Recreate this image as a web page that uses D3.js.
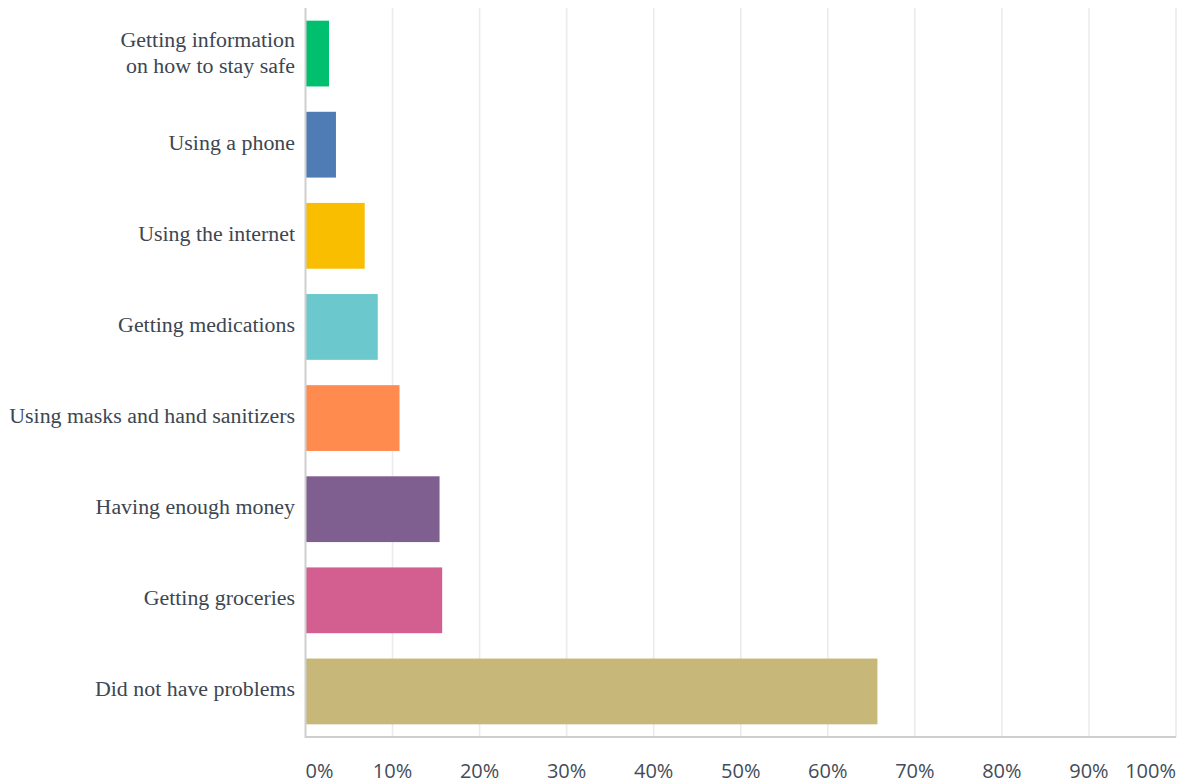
<!DOCTYPE html>
<html>
<head>
<meta charset="utf-8">
<script src="https://cdn.jsdelivr.net/npm/d3@7"></script>
<style>
  html, body { margin: 0; padding: 0; background: #ffffff; }
  svg { display: block; }
</style>
</head>
<body>
<svg id="chart" width="1180" height="783"></svg>
<script>
// Problems experienced (share of respondents, %)
const categories = [
  "Getting information\non how to stay safe",
  "Using a phone",
  "Using the internet",
  "Getting medications",
  "Using masks and hand sanitizers",
  "Having enough money",
  "Getting groceries",
  "Did not have problems"
];
const values = [2.7, 3.5, 6.8, 8.3, 10.8, 15.4, 15.7, 65.7];
const barColors = ["#00bf6f", "#507cb6", "#f9be00", "#6bc8cd", "#ff8b4f", "#7f5f90", "#d25f90", "#c7b879"];
const tickValues = [0, 10, 20, 30, 40, 50, 60, 70, 80, 90, 100];
const tickLabels = ["0%", "10%", "20%", "30%", "40%", "50%", "60%", "70%", "80%", "90%", "100%"];

const svg = d3.select("#chart");
const margin = { top: 8, left: 305.5, right: 4, bottom: 46 };
const W = 1180, H = 783;

const x = d3.scaleLinear().domain([0, 100]).range([margin.left, W - margin.right]);
const y = d3.scaleBand()
  .domain(categories)
  .range([margin.top, H - margin.bottom])
  .paddingInner(0.278)
  .paddingOuter(0.139);

// vertical grid lines
svg.append("g")
  .selectAll("line")
  .data(tickValues.slice(1))
  .join("line")
  .attr("x1", d => x(d)).attr("x2", d => x(d))
  .attr("y1", margin.top).attr("y2", H - margin.bottom)
  .attr("stroke", "#ebebeb")
  .attr("stroke-width", 1.6);

// bars
svg.append("g")
  .selectAll("rect")
  .data(categories)
  .join("rect")
  .attr("x", x(0))
  .attr("y", d => y(d))
  .attr("width", (d, i) => x(values[i]) - x(0))
  .attr("height", y.bandwidth())
  .attr("fill", (d, i) => barColors[i]);

// axis lines
svg.append("line")
  .attr("x1", x(0)).attr("x2", x(0))
  .attr("y1", margin.top).attr("y2", H - margin.bottom + 1)
  .attr("stroke", "#cfcfcf").attr("stroke-width", 2);
svg.append("line")
  .attr("x1", x(0)).attr("x2", x(100))
  .attr("y1", H - margin.bottom).attr("y2", H - margin.bottom)
  .attr("stroke", "#cfcfcf").attr("stroke-width", 2);

// category labels
const labelG = svg.append("g")
  .attr("font-family", "'Liberation Serif', 'DejaVu Serif', serif")
  .attr("font-size", 21.9)
  .attr("fill", "#3d4651")
  .attr("text-anchor", "end");

categories.forEach(c => {
  const lines = c.split("\n");
  const cy = y(c) + y.bandwidth() / 2;
  const t = labelG.append("text");
  lines.forEach((ln, j) => {
    const off = lines.length === 1 ? 5 : (j - (lines.length - 1) / 2) * 26 + 6;
    t.append("tspan").attr("x", 295).attr("y", cy + off).text(ln);
  });
});

// x tick labels
svg.append("g")
  .attr("font-family", "'Open Sans', Roboto, sans-serif")
  .attr("font-size", 20)
  .attr("fill", "#434c58")
  .selectAll("text")
  .data(tickValues)
  .join("text")
  .attr("x", d => x(d))
  .attr("y", 778)
  .attr("text-anchor", (d, i) => i === 0 ? "start" : (i === tickValues.length - 1 ? "end" : "middle"))
  .text((d, i) => tickLabels[i]);
</script>
</body>
</html>
